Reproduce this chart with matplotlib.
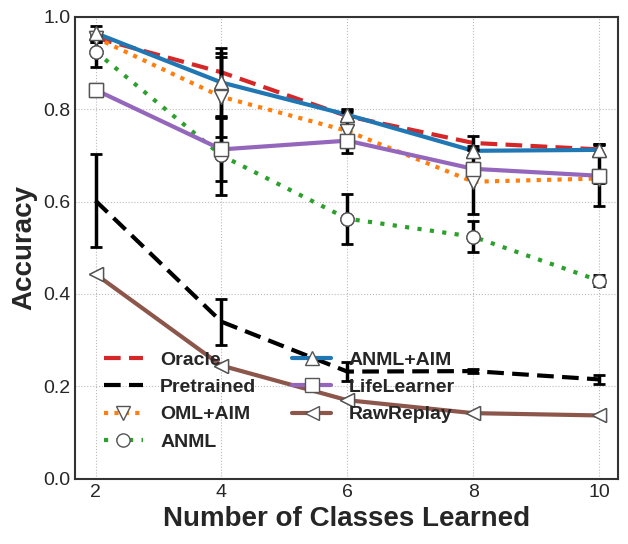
import numpy as np
import matplotlib
matplotlib.use("Agg")
import matplotlib.pyplot as plt

plt.style.use("seaborn-v0_8-whitegrid")
plt.rcParams['font.family'] = ['Liberation Sans', 'DejaVu Sans']

classes = [2, 4, 6, 8, 10]

names = ["Oracle", "Pretrained", "OML+AIM", "ANML", "ANML+AIM", "LifeLearner", "RawReplay"]
oracle = [0.955, 0.880, 0.785, 0.727, 0.713]
pretrained = [0.602, 0.340, 0.232, 0.233, 0.215]
oml_aim = [0.955, 0.827, 0.753, 0.643, 0.650]
anml = [0.925, 0.700, 0.563, 0.524, 0.429]
anml_aim = [0.965, 0.858, 0.788, 0.710, 0.712]
lifelearner = [0.842, 0.713, 0.732, 0.671, 0.656]
rawreplay = [0.443, 0.245, 0.170, 0.142, 0.137]

err_oracle = [0.010, 0.041, 0.010, 0.016, 0.012]
err_pretrained = [0.100, 0.050, 0.020, 0.005, 0.010]
err_oml_aim = [0.010, 0.087, 0.047, 0.070, 0.010]
err_anml = [0.033, 0.085, 0.054, 0.033, 0.012]
err_anml_aim = [0.015, 0.075, 0.010, 0.010, 0.012]
err_lifelearner = [0.000, 0.068, 0.010, 0.010, 0.066]
err_rawreplay = [0.0, 0.0, 0.0, 0.0, 0.0]

series = [oracle, pretrained, oml_aim, anml, anml_aim, lifelearner, rawreplay]
errors = [err_oracle, err_pretrained, err_oml_aim, err_anml, err_anml_aim, err_lifelearner, err_rawreplay]
colors = ["#d62728", "black", "#ff7f0e", "#2ca02c", "#1f77b4", "#9467bd", "#8c564b"]
styles = [(0, (4, 2)), (0, (4, 2)), (0, (1, 1.5)), (0, (1, 2)), "-", "-", "-"]
markers = [None, None, "v", "o", "^", "s", "<"]

fig, ax = plt.subplots(figsize=(6.28, 5.44), dpi=100)

for name, y, e, c, ls, m in zip(names, series, errors, colors, styles, markers):
    ax.plot(classes, y, color=c, linestyle=ls, linewidth=3, marker=m, markersize=9.5,
            markerfacecolor="white", markeredgecolor="#555555", markeredgewidth=1,
            label=name, zorder=2)
    if any(v > 0 for v in e):
        ax.errorbar(classes, y, yerr=e, fmt="none", ecolor="black", elinewidth=2.5,
                    capsize=4, capthick=2, zorder=3)
    if m is not None:
        ax.plot(classes, y, linestyle="none", marker=m, markersize=9.5,
                markerfacecolor="white", markeredgecolor="#555555",
                markeredgewidth=1, zorder=4)

ax.set_xlim(1.68, 10.3)
ax.set_ylim(0, 1.0)
ax.set_xticks(classes)
ax.set_yticks([0.0, 0.2, 0.4, 0.6, 0.8, 1.0])
ax.tick_params(labelsize=14)
ax.grid(True, linestyle=":", color="#bbbbbb", linewidth=0.8)
for s in ax.spines.values():
    s.set_visible(True)
    s.set_color("#333333")
    s.set_linewidth(1.5)

ax.set_xlabel("Number of Classes Learned", fontsize=20, fontweight="bold")
ax.set_ylabel("Accuracy", fontsize=20, fontweight="bold")

ax.legend(ncol=2, loc="upper left", bbox_to_anchor=(0.02, 0.314), frameon=False,
          prop={"weight": "bold", "size": 14}, handlelength=2.0, labelspacing=0.5,
          columnspacing=1.85, handletextpad=0.9)

fig.subplots_adjust(left=0.12, right=0.984, top=0.969, bottom=0.12)
fig.savefig("out.png", dpi=100)
